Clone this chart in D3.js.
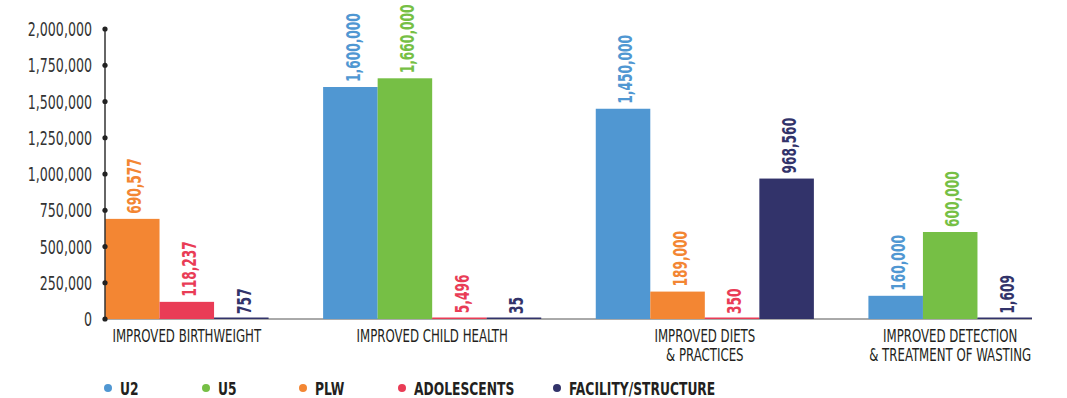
<!DOCTYPE html>
<html>
<head>
<meta charset="utf-8">
<script src="https://cdn.jsdelivr.net/npm/d3@7/dist/d3.min.js"></script>
<style>
  body { margin: 0; background: #fff; }
  svg text { font-family: "DejaVu Sans Condensed", "Liberation Sans Narrow", sans-serif; }
</style>
</head>
<body>
<svg id="chart" width="1067" height="398"></svg>
<script>
// categories (each may have two lines)
const categories = [
  ['IMPROVED BIRTHWEIGHT'],
  ['IMPROVED CHILD HEALTH'],
  ['IMPROVED DIETS', '& PRACTICES'],
  ['IMPROVED DETECTION', '& TREATMENT OF WASTING']
];
const seriesNames = ['U2', 'U5', 'PLW', 'ADOLESCENTS', 'FACILITY/STRUCTURE'];
const seriesColors = ['#5097d2', '#76bf45', '#f38633', '#e93c56', '#32336a'];

// values per series, one per category (null = no bar)
const u2 = [null, 1600000, 1450000, 160000];
const u5 = [null, 1660000, null, 600000];
const plw = [690577, null, 189000, null];
const adolescents = [118237, 5496, 350, null];
const facility = [757, 35, 968560, 1609];
const seriesValues = [u2, u5, plw, adolescents, facility];

const yTicks = [0, 250000, 500000, 750000, 1000000, 1250000, 1500000, 1750000, 2000000];

const svg = d3.select('#chart');
const margin = { top: 29, left: 105, right: 35, bottom: 79 };
const width = 1067, height = 398;
const textColor = '#231f20';
const squeeze = 0.72; // narrow the font to look like a condensed face

// flatten bars: only present values, with an empty slot between groups
const bars = [];
const slots = [];
categories.forEach((cat, ci) => {
  seriesValues.forEach((vals, si) => {
    if (vals[ci] != null) {
      const key = ci + '-' + si;
      slots.push(key);
      bars.push({ key, ci, si, value: vals[ci] });
    }
  });
  if (ci < categories.length - 1) slots.push('gap' + ci);
});

const x = d3.scaleBand()
  .domain(slots)
  .range([margin.left, width - margin.right])
  .paddingInner(0)
  .paddingOuter(0);

const y = d3.scaleLinear()
  .domain([0, 2000000])
  .range([height - margin.bottom, margin.top]);

// baseline
svg.append('line')
  .attr('x1', margin.left).attr('x2', width - margin.right)
  .attr('y1', y(0)).attr('y2', y(0))
  .attr('stroke', '#555').attr('stroke-width', 1);

// bars
svg.selectAll('.bar')
  .data(bars)
  .enter()
  .append('rect')
  .attr('class', 'bar')
  .attr('x', d => x(d.key))
  .attr('width', x.bandwidth())
  .attr('y', d => Math.min(y(d.value), y(0) - 1.5))
  .attr('height', d => Math.max(y(0) - y(d.value), 1.5))
  .attr('fill', d => seriesColors[d.si]);

// value labels
svg.selectAll('.value-label')
  .data(bars)
  .enter()
  .append('text')
  .attr('class', 'value-label')
  .attr('transform', d => `translate(${x(d.key) + x.bandwidth() / 2 + 2},${y(d.value) - 5}) rotate(-90) scale(0.68,1)`)
  .attr('dy', '0.36em')
  .attr('text-anchor', 'start')
  .style('font-size', '20px')
  .style('font-weight', 'bold')
  .style('fill', d => seriesColors[d.si])
  .text(d => d3.format(',')(d.value));

// y axis
const yAxis = svg.append('g');
yAxis.append('line')
  .attr('x1', margin.left).attr('x2', margin.left)
  .attr('y1', y(0)).attr('y2', y(2000000))
  .attr('stroke', '#333').attr('stroke-width', 1.5);
yAxis.selectAll('circle')
  .data(yTicks)
  .enter()
  .append('circle')
  .attr('cx', margin.left)
  .attr('cy', d => y(d))
  .attr('r', 2.6)
  .attr('fill', '#222');
yAxis.selectAll('text')
  .data(yTicks)
  .enter()
  .append('text')
  .attr('transform', d => `translate(${margin.left - 13},${y(d)}) scale(${squeeze},1)`)
  .attr('dy', '0.36em')
  .attr('text-anchor', 'end')
  .style('font-size', '19.5px')
  .style('fill', '#333')
  .text(d => d3.format(',')(d));

// category labels
categories.forEach((lines, ci) => {
  const keys = bars.filter(b => b.ci === ci).map(b => x(b.key));
  const cx = (d3.min(keys) + d3.max(keys) + x.bandwidth()) / 2;
  const t = svg.append('text')
    .attr('transform', `translate(${cx},${y(0) + 23}) scale(0.77,1)`)
    .attr('text-anchor', 'middle')
    .style('font-size', '17px')
    .style('fill', textColor);
  lines.forEach((line, li) => {
    t.append('tspan')
      .attr('x', 0)
      .attr('dy', li === 0 ? 0 : 19)
      .text(line);
  });
});

// legend
const legendX = [108, 206, 303, 402, 557];
const legend = svg.append('g')
  .selectAll('g')
  .data(seriesNames)
  .enter()
  .append('g')
  .attr('transform', (d, i) => `translate(${legendX[i]},388)`);
legend.append('circle')
  .attr('r', 4)
  .attr('fill', (d, i) => seriesColors[i]);
legend.append('text')
  .attr('transform', `translate(12,0) scale(0.74,1)`)
  .attr('dy', '0.36em')
  .style('font-size', '18.5px')
  .style('font-weight', 'bold')
  .style('fill', textColor)
  .text(d => d);
</script>
</body>
</html>
